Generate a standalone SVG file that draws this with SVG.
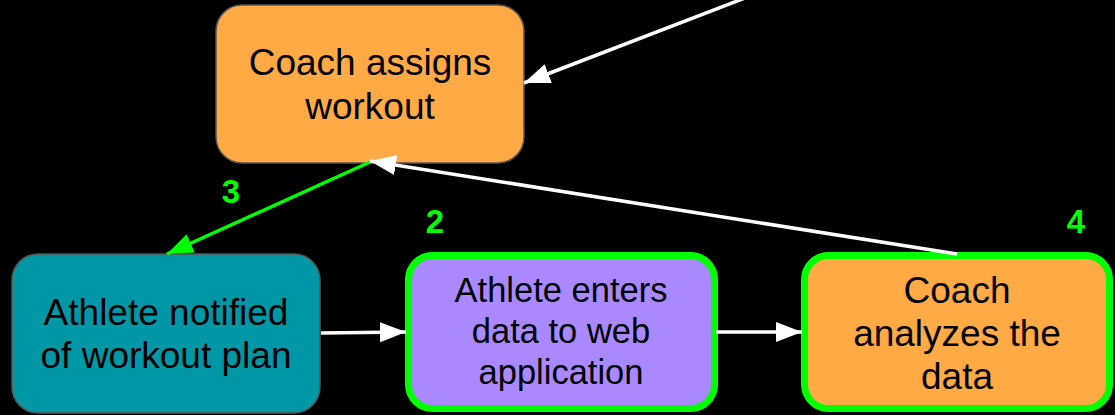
<svg xmlns="http://www.w3.org/2000/svg" width="1115" height="415" viewBox="0 0 1115 415">
<defs>
<style>
.lbl{font-family:"Liberation Sans",Arial,sans-serif;font-size:37px;fill:#000;text-anchor:middle}
.sm{font-size:34.5px}
.num{font-family:"Liberation Sans",Arial,sans-serif;font-size:33px;font-weight:bold;fill:#00ff00;text-anchor:middle}
.plain{stroke:#555;stroke-width:1.5}
.hl{stroke:#00ff00;stroke-width:7}
.w{stroke:#fff;stroke-width:3.5;fill:none}
.g{stroke:#00ff00;stroke-width:3.5;fill:none}
</style>
<marker id="aw" markerUnits="userSpaceOnUse" markerWidth="30" markerHeight="24" viewBox="0 -12 30 24" refX="26" refY="0" orient="auto">
<path d="M0,-10 L26,0 L0,10 Z" fill="#fff"/>
</marker>
<marker id="ag" markerUnits="userSpaceOnUse" markerWidth="30" markerHeight="24" viewBox="0 -12 30 24" refX="26" refY="0" orient="auto">
<path d="M0,-10 L26,0 L0,10 Z" fill="#00ff00"/>
</marker>
</defs>
<rect width="1115" height="415" fill="#000"/>
<g id="coach-assigns">
<rect class="plain" x="216" y="5" width="308" height="158" rx="26" fill="#ffaa44"/>
<text class="lbl" x="370" y="75">Coach assigns</text>
<text class="lbl" x="370" y="119">workout</text>
</g>
<g id="athlete-notified">
<rect class="plain" x="12" y="254" width="308" height="159" rx="26" fill="#0097a7"/>
<text class="lbl" x="166" y="325">Athlete notified</text>
<text class="lbl" x="166" y="368">of workout plan</text>
</g>
<g id="athlete-enters">
<rect class="hl" x="408.5" y="255.5" width="306" height="153" rx="24" fill="#aa88ff"/>
<text class="lbl sm" x="561" y="302">Athlete enters</text>
<text class="lbl sm" x="561" y="343">data to web</text>
<text class="lbl sm" x="561" y="384">application</text>
</g>
<g id="coach-analyzes">
<rect class="hl" x="804.5" y="255.5" width="305" height="153" rx="24" fill="#ffaa44"/>
<text class="lbl" x="957" y="303">Coach</text>
<text class="lbl" x="957" y="346">analyzes the</text>
<text class="lbl" x="957" y="389">data</text>
</g>
<g id="connectors">
<line class="w" x1="745" y1="-2" x2="524" y2="83" marker-end="url(#aw)"/>
<line class="g" x1="370" y1="162" x2="167" y2="254" marker-end="url(#ag)"/>
<line class="w" x1="957" y1="254" x2="370" y2="161" marker-end="url(#aw)"/>
<line class="w" x1="321" y1="333" x2="406" y2="332" marker-end="url(#aw)"/>
<line class="w" x1="716" y1="332" x2="802" y2="332" marker-end="url(#aw)"/>
<text class="num" x="231" y="203">3</text>
<text class="num" x="435" y="233">2</text>
<text class="num" x="1076" y="233">4</text>
</g>
</svg>
